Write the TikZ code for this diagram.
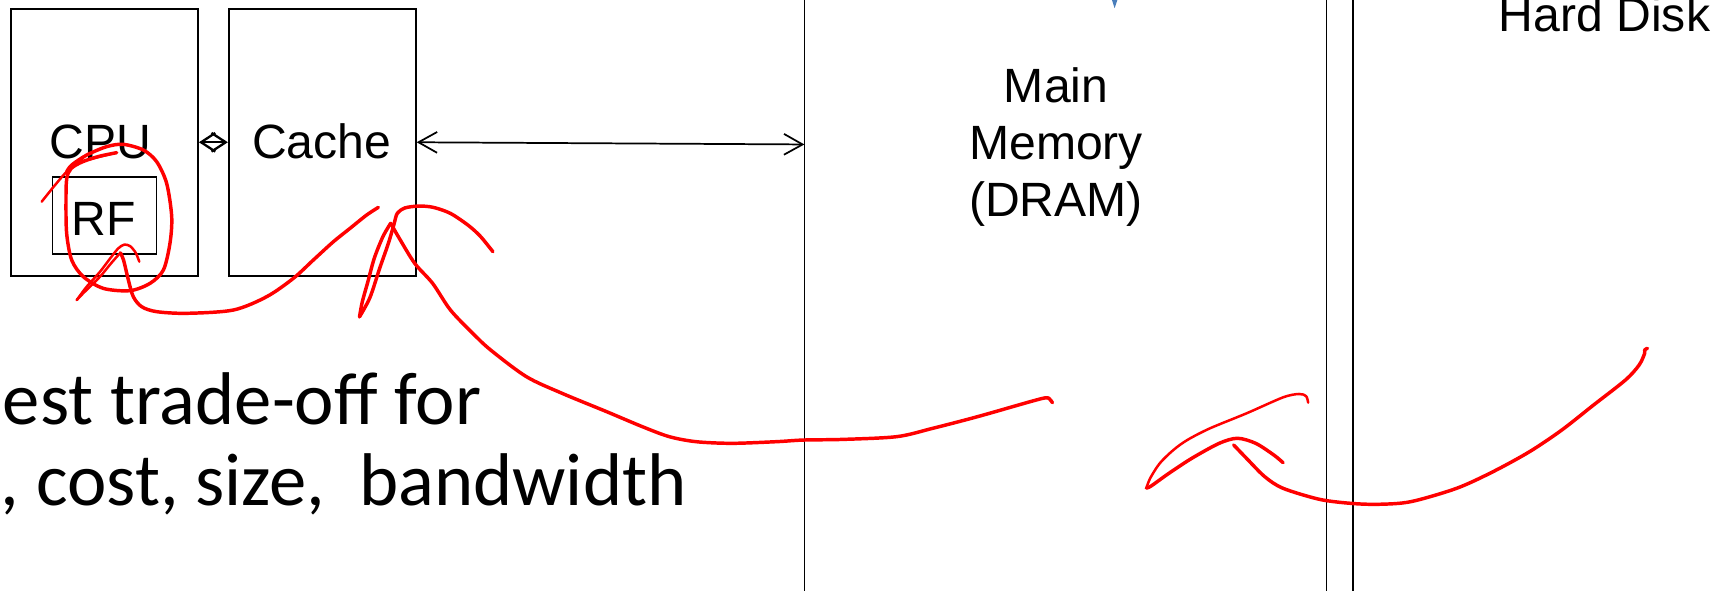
\documentclass[tikz,border=0pt]{standalone}
\usepackage{fontspec}
\setmainfont{Liberation Sans}
\newfontfamily\calibrifont{Carlito}
\usetikzlibrary{arrows.meta,fit}
\definecolor{tipblue}{RGB}{74,126,187}
\tikzset{
  bigbarb/.tip={Straight Barb[length=0.17cm,width=0.19cm]},
  smallbarb/.tip={Straight Barb[length=0.13cm,width=0.17cm,line width=0.6pt]},
}
\begin{document}
\begin{tikzpicture}[x=0.01cm,y=-0.01cm,
  wire/.style={draw=black,line width=0.45pt},
  unit/.style={wire,inner sep=0pt},
  lbl/.style={font=\fontsize{12.5}{14.9}\selectfont,inner sep=0pt,anchor=base},
  big/.style={font=\calibrifont\fontsize{19.4}{23}\selectfont,inner sep=0pt,anchor=base west},
  ink/.style={draw=red,line width=0.9pt,line cap=round,line join=round},
  thinink/.style={ink,line width=0.65pt},
]
\useasboundingbox (0,0) rectangle (1568,540);

% memory hierarchy units
\node[unit,fit={(10,8) (181,252)}] (cpu) {};
\node[unit,fit={(209,8) (380,252)}] (cache) {};
\node[unit,fit={(48,162) (143,232)}] (rf) {};
\node[lbl] (cpulbl) at (92,144.7) {CPU};
\node[lbl] (cachelbl) at (294,145) {Cache};
\node[lbl] (rflbl) at (95,214.8) {RF};
\node[lbl,align=center,anchor=north] (mm) at (965,60.8) {Main\\Memory\\(DRAM)};
\node[lbl,anchor=base west] (hd) at (1369,29) {Hard Disk};

% region walls
\draw[wire] (735,-5) -- (735,545);
\draw[wire] (1212,-5) -- (1212,545);
\draw[wire] (1236,-5) -- (1236,545);
\coordinate (mmwall) at (735,132);

% connectors
\draw[wire,smallbarb-smallbarb] (cpu.east) -- (cache.west);
\draw[wire,bigbarb-bigbarb] (cache.east) -- (mmwall);

% blue arrow tip at top
\fill[tipblue] (1015.7,-1) -- (1021.3,-1) -- (1018.5,7.5) -- cycle;

% slide text
\node[big] (t1) at (2,388) {est trade-off for};
\node[big] (t2) at (0,462) {, cost, size,\ \ bandwidth};

% red ink annotations
\draw[thinink] plot[smooth] coordinates {(38.1,184.3) (50.3,169.1) (60.9,156.9) (70.1,149.3) (85.3,144.7) (106.6,139.5)};
\draw[ink] plot[smooth] coordinates {(106.6,139.5) (90,143) (75,148) (65,154) (61,163) (60.3,182.8) (60.9,213.2) (65.5,237.6) (76.1,252.8) (94.4,263.5) (118.8,265.6) (137.1,258.9) (149.3,246.7) (155.3,222.4) (156.9,198) (152.3,167.6) (143.2,147.8) (131,137.1) (112.7,131.9) (97.5,134) (79.2,141.7) (65.5,150.8) (60.9,157)};

\draw[thinink] plot[smooth] coordinates {(127.3,239.1) (124,231) (119,225) (113.7,223.5) (108,227) (100,237) (91.4,248.3) (79.2,262) (70.1,274.2)};
\draw[thinink] plot[smooth] coordinates {(70.1,274.2) (76,268) (91.4,252.8) (102,240) (110,231)};
\draw[ink] plot[smooth] coordinates {(110,231) (113,238) (117.3,255.9) (121.8,271.1) (129.5,280.3) (143.2,284.8) (170.6,286.3) (213.2,283.3) (243.7,271.1) (268,254.4) (286.3,237.6) (304.6,220.9) (319.8,208.7) (335,196.5) (345.7,189.5)};

\draw[ink] plot[smooth] coordinates {(450.4,230) (439,216) (428,206) (411.6,195) (396,189.5) (383,188.3) (370,190) (363,195) (360,205) (355,222) (347,245) (338,272) (328.5,289.5)};
\draw[ink] plot[smooth] coordinates {(328.5,289.5) (331,276) (336,258) (342,236) (350,216) (357,204)};
\draw[ink] plot[smooth] coordinates {(357,204) (365,218) (379,240.7) (395.3,258.9) (411.6,283.3) (432,304.6) (448.3,319.8) (481,344.2) (513.6,359.4) (554.4,376.2) (587,389.9) (611.5,399) (636,403.6) (668.6,405.1) (709.4,403.6) (733.9,402.1) (770.6,401.5) (819.5,399) (852.2,391.4) (893,380.8) (941.1,367.1) (955.4,363.5) (959,364.5) (961.7,368)};

\draw[thinink] plot[smooth] coordinates {(1195.3,367.9) (1193.5,362) (1187,360) (1172.4,363.1) (1139,377.7) (1105.6,391.4) (1085,402) (1072.2,411.2) (1059.7,423.4) (1051,437) (1047.5,446)};
\draw[ink] plot[smooth] coordinates {(1047.5,446) (1052,444) (1068.1,432.5) (1089,418.8) (1114,405.1) (1130.7,400.5) (1147.4,405.1) (1164,415.8) (1172.4,422.8)};
\draw[ink] plot[smooth] coordinates {(1127.3,406.6) (1139,418.8) (1155.7,435.6) (1172.4,446.2) (1205.8,456.3) (1235,460) (1260,460.8) (1289.2,458.4) (1331,446.2) (1364.3,431) (1397.7,412.7) (1427,393) (1456.1,370.1) (1485.3,347.2) (1497.8,333.5) (1502.8,322.9) (1502.8,319.8) (1505.4,318.3)};
\end{tikzpicture}
\end{document}
